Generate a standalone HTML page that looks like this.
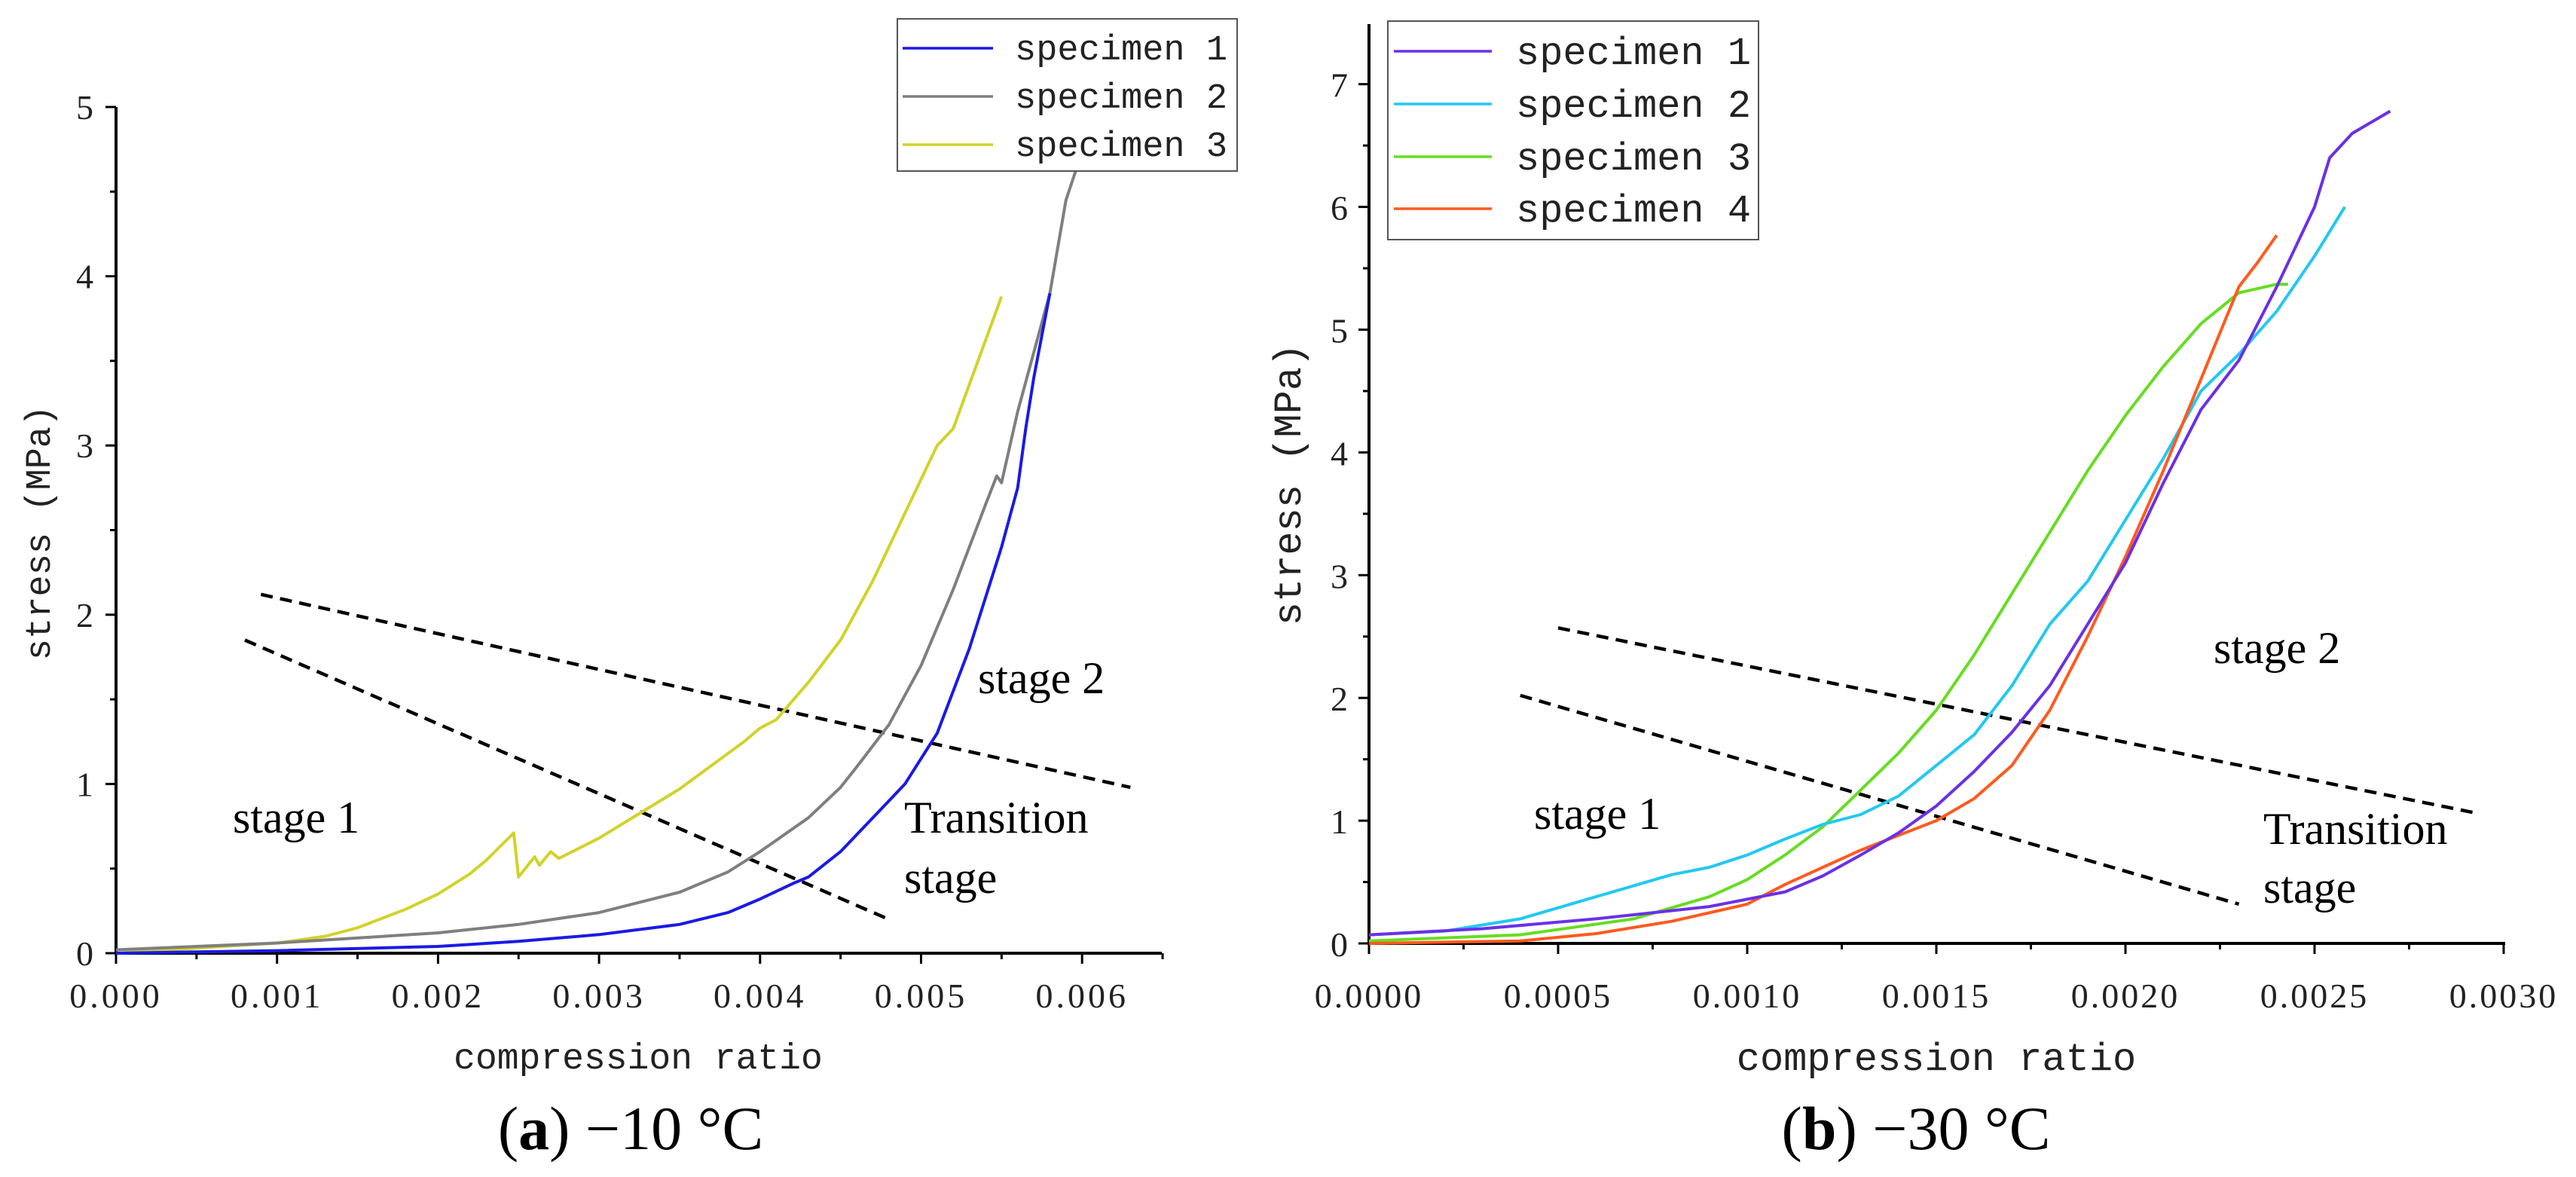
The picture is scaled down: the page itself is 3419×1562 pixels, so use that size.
<!DOCTYPE html>
<html><head><meta charset="utf-8"><style>
html,body{margin:0;padding:0;background:#fff;}
svg{display:block;}
.tick{font-family:"Liberation Serif",serif;font-size:46px;fill:#222;}
.mono{font-family:"Liberation Mono",monospace;fill:#222;}
.serif{font-family:"Liberation Serif",serif;fill:#000;}
</style></head><body>
<svg id="fig" width="3419" height="1562" viewBox="0 0 3419 1562" xmlns="http://www.w3.org/2000/svg">
<g id="pa"></g>
<g id="pb"></g>
</svg>
<script>
// ---- Chart (a) -10 C data ----
const aXTicks = ["0.000","0.001","0.002","0.003","0.004","0.005","0.006"];
const aYTicks = ["0","1","2","3","4","5"];
const aS1x = [0,0.001,0.002,0.0025,0.003,0.0035,0.0038,0.004,0.0042,0.0043,0.0045,0.0046,0.0048,0.0049,0.0051,0.0053,0.0055,0.0056,0.00565,0.0057,0.0058];
const aS1y = [0,0.015,0.04,0.07,0.11,0.17,0.24,0.32,0.41,0.45,0.6,0.7,0.9,1.0,1.3,1.8,2.4,2.75,3.1,3.4,3.9];
const aS2x = [0,0.001,0.002,0.0025,0.003,0.0035,0.0038,0.004,0.0043,0.0045,0.0046,0.0048,0.005,0.0052,0.0054,0.00547,0.0055,0.0056,0.0058,0.0059,0.00597];
const aS2y = [0.02,0.06,0.12,0.17,0.24,0.36,0.48,0.6,0.8,0.98,1.1,1.35,1.7,2.15,2.65,2.82,2.78,3.2,3.9,4.45,4.65];
const aS3x = [0,0.001,0.0013,0.0015,0.0018,0.002,0.0022,0.0023,0.00247,0.0025,0.0026,0.00263,0.0027,0.00275,0.003,0.0035,0.0039,0.004,0.0041,0.0043,0.0045,0.0047,0.0049,0.0051,0.0052,0.0055];
const aS3y = [0,0.06,0.1,0.15,0.26,0.35,0.47,0.55,0.71,0.45,0.57,0.52,0.6,0.56,0.68,0.97,1.25,1.33,1.38,1.6,1.85,2.2,2.6,3.0,3.1,3.88];
const aD1x = [0.0009,0.0063], aD1y = [2.12,0.98];
const aD2x = [0.0008,0.0048], aD2y = [1.85,0.2];
// ---- Chart (b) -30 C data ----
const bXTicks = ["0.0000","0.0005","0.0010","0.0015","0.0020","0.0025","0.0030"];
const bYTicks = ["0","1","2","3","4","5","6","7"];
const bS1x = [0,0.0003,0.0006,0.0009,0.0011,0.0012,0.0013,0.0014,0.0015,0.0016,0.0017,0.0018,0.0019,0.002,0.0021,0.0022,0.0023,0.0024,0.0025,0.00254,0.0026,0.0027];
const bS1y = [0.07,0.12,0.2,0.3,0.42,0.55,0.72,0.9,1.12,1.4,1.72,2.1,2.6,3.1,3.75,4.35,4.75,5.35,6.0,6.4,6.6,6.78];
const bS2x = [0,0.0002,0.0004,0.0006,0.0008,0.0009,0.001,0.0011,0.0012,0.0013,0.0014,0.0015,0.0016,0.0017,0.0018,0.0019,0.002,0.0021,0.0022,0.0023,0.0024,0.0025,0.00258];
const bS2y = [0.07,0.1,0.2,0.38,0.56,0.62,0.72,0.85,0.97,1.05,1.2,1.45,1.7,2.1,2.6,2.95,3.45,3.95,4.5,4.8,5.15,5.6,6.0];
const bS3x = [0,0.0004,0.0007,0.0009,0.001,0.0011,0.0012,0.0013,0.0014,0.0015,0.0016,0.0017,0.0018,0.0019,0.002,0.0021,0.0022,0.0023,0.0024,0.00243];
const bS3y = [0.02,0.07,0.2,0.38,0.52,0.72,0.95,1.25,1.55,1.9,2.35,2.85,3.35,3.85,4.3,4.7,5.05,5.3,5.37,5.37];
const bS4x = [0,0.0004,0.0006,0.0008,0.001,0.0011,0.0012,0.0013,0.0014,0.0015,0.0016,0.0017,0.0018,0.0019,0.002,0.0021,0.0022,0.0023,0.00235,0.0024];
const bS4y = [0,0.02,0.08,0.18,0.32,0.48,0.62,0.76,0.88,1.0,1.18,1.45,1.9,2.5,3.15,3.85,4.6,5.35,5.55,5.77];
const bD1x = [0.0005,0.00293], bD1y = [2.57,1.06];
const bD2x = [0.0004,0.0023], bD2y = [2.02,0.32];

const NS = "http://www.w3.org/2000/svg";
function mk(parent, tag, attrs, text){
  const e = document.createElementNS(NS, tag);
  for (const k in attrs) e.setAttribute(k, attrs[k]);
  if (text !== undefined) e.textContent = text;
  parent.appendChild(e);
  return e;
}
function pathOf(xs, ys, sx, sy){
  return xs.map((v,i)=>(i?"L":"M")+sx(v).toFixed(1)+","+sy(ys[i]).toFixed(1)).join(" ");
}

// ---------- Chart A ----------
const ga = document.getElementById("pa");
const aX0=154, aXu=213.7/0.001, aY0=1265, aYu=224.6;
const ax = v => aX0 + v*aXu;
const ay = v => aY0 - v*aYu;
{
  const yAxis = mk(ga,"line",{x1:aX0,y1:ay(5),x2:aX0,y2:aY0,stroke:"#000","stroke-width":4});
  
  
  const xAxis = mk(ga,"line",{x1:aX0-2,y1:aY0,x2:1542,y2:aY0,stroke:"#000","stroke-width":4});
  
  
  for (let i=0;i<=10;i++){
    const v=i*0.5, maj=(i%2===0);
    const t = mk(ga,"line",{x1:aX0,y1:ay(v),x2:aX0-(maj?14:8),y2:ay(v),stroke:"#000","stroke-width":3});
    
    
  }
  aYTicks.forEach((lab,i)=>{
    const t = mk(ga,"text",{x:aX0-30,y:ay(+lab)+16,"text-anchor":"end",class:"tick"},lab);
    
    
  });
  for (let i=0;i<=13;i++){
    const v=i*0.0005, maj=(i%2===0);
    const t = mk(ga,"line",{x1:ax(v),y1:aY0,x2:ax(v),y2:aY0+(maj?14:8),stroke:"#000","stroke-width":3});
    
    
  }
  aXTicks.forEach((lab,i)=>{
    const t = mk(ga,"text",{x:ax(parseFloat(lab)),y:1337,"text-anchor":"middle",class:"tick","letter-spacing":"4"},lab);
    
    
  });
  const xt = mk(ga,"text",{x:847,y:1418,"text-anchor":"middle",class:"mono","font-size":48},"compression ratio");
  
  
  const yt = mk(ga,"text",{x:0,y:0,"text-anchor":"middle",class:"mono","font-size":47,transform:"translate(66,707) rotate(-90)"},"stress (MPa)");
  
  

  const d1 = mk(ga,"path",{d:pathOf(aD1x,aD1y,ax,ay),stroke:"#000","stroke-width":4.5,"stroke-dasharray":"16 10",fill:"none"});
  
  
  const d2 = mk(ga,"path",{d:pathOf(aD2x,aD2y,ax,ay),stroke:"#000","stroke-width":4.5,"stroke-dasharray":"16 10",fill:"none"});
  
  

  const s3 = mk(ga,"path",{d:pathOf(aS3x,aS3y,ax,ay),stroke:"#d2d22a","stroke-width":4,fill:"none","stroke-linejoin":"round"});
  
  
  const s2 = mk(ga,"path",{d:pathOf(aS2x,aS2y,ax,ay),stroke:"#7f7f7f","stroke-width":4,fill:"none","stroke-linejoin":"round"});
  
  
  const s1 = mk(ga,"path",{d:pathOf(aS1x,aS1y,ax,ay),stroke:"#1a1ae6","stroke-width":4,fill:"none","stroke-linejoin":"round"});
  
  

  const l1 = mk(ga,"text",{x:309,y:1105,class:"serif","font-size":60},"stage 1");
  
  
  const l2 = mk(ga,"text",{x:1298,y:920,class:"serif","font-size":60},"stage 2");
  
  
  const l3 = mk(ga,"text",{x:1200,y:1105,class:"serif","font-size":60},"Transition");
  
  
  const l4 = mk(ga,"text",{x:1200,y:1185,class:"serif","font-size":60},"stage");
  
  

  const lg = mk(ga,"g",{});
  
  
  mk(lg,"rect",{x:1191,y:25,width:451,height:202,fill:"#fff",stroke:"#555","stroke-width":2});
  const cols=["#1a1ae6","#7f7f7f","#d2d22a"], rows=[64,128,192];
  ["specimen 1","specimen 2","specimen 3"].forEach((s,i)=>{
    const e = mk(lg,"line",{x1:1198,y1:rows[i],x2:1318,y2:rows[i],stroke:cols[i],"stroke-width":3.5});
    
    
    const t = mk(lg,"text",{x:1347,y:rows[i]+15,class:"mono","font-size":47},s);
    
    
  });
  const cap = mk(ga,"text",{x:837,y:1525,"text-anchor":"middle",class:"serif","font-size":82},"");
  
  
  cap.innerHTML = '(<tspan font-weight="bold">a</tspan>) \u221210 \u00b0C';
}

// ---------- Chart B ----------
const gb = document.getElementById("pb");
const bX0=1817, bXu=251/0.0005, bY0=1252, bYu=162.9;
const bx = v => bX0 + v*bXu;
const by = v => bY0 - v*bYu;
{
  const yAxis = mk(gb,"line",{x1:bX0,y1:32,x2:bX0,y2:bY0,stroke:"#000","stroke-width":4});
  
  
  const xAxis = mk(gb,"line",{x1:bX0-2,y1:bY0,x2:bx(0.003)+2,y2:bY0,stroke:"#000","stroke-width":4});
  
  
  for (let i=0;i<=14;i++){
    const v=i*0.5, maj=(i%2===0);
    const t = mk(gb,"line",{x1:bX0,y1:by(v),x2:bX0-(maj?14:8),y2:by(v),stroke:"#000","stroke-width":3});
    
    
  }
  bYTicks.forEach(lab=>{
    const t = mk(gb,"text",{x:bX0-28,y:by(+lab)+17,"text-anchor":"end",class:"tick","font-size":48},lab);
    
    
  });
  for (let i=0;i<=12;i++){
    const v=i*0.00025, maj=(i%2===0);
    const t = mk(gb,"line",{x1:bx(v),y1:bY0,x2:bx(v),y2:bY0+(maj?14:8),stroke:"#000","stroke-width":3});
    
    
  }
  bXTicks.forEach(lab=>{
    const t = mk(gb,"text",{x:bx(parseFloat(lab)),y:1337,"text-anchor":"middle",class:"tick","font-size":48,"letter-spacing":"3"},lab);
    
    
  });
  const xt = mk(gb,"text",{x:2570,y:1420,"text-anchor":"middle",class:"mono","font-size":52},"compression ratio");
  
  
  const yt = mk(gb,"text",{x:0,y:0,"text-anchor":"middle",class:"mono","font-size":52,transform:"translate(1726,643) rotate(-90)"},"stress (MPa)");
  
  

  const d1 = mk(gb,"path",{d:pathOf(bD1x,bD1y,bx,by),stroke:"#000","stroke-width":4.5,"stroke-dasharray":"16 10",fill:"none"});
  
  
  const d2 = mk(gb,"path",{d:pathOf(bD2x,bD2y,bx,by),stroke:"#000","stroke-width":4.5,"stroke-dasharray":"16 10",fill:"none"});
  
  

  const s3 = mk(gb,"path",{d:pathOf(bS3x,bS3y,bx,by),stroke:"#66dd22","stroke-width":4,fill:"none","stroke-linejoin":"round"});
  
  
  const s2 = mk(gb,"path",{d:pathOf(bS2x,bS2y,bx,by),stroke:"#22c8f2","stroke-width":4,fill:"none","stroke-linejoin":"round"});
  
  
  const s4 = mk(gb,"path",{d:pathOf(bS4x,bS4y,bx,by),stroke:"#ff5a1e","stroke-width":4,fill:"none","stroke-linejoin":"round"});
  
  
  const s1 = mk(gb,"path",{d:pathOf(bS1x,bS1y,bx,by),stroke:"#6a30e8","stroke-width":4,fill:"none","stroke-linejoin":"round"});
  
  

  const l1 = mk(gb,"text",{x:2036,y:1100,class:"serif","font-size":60},"stage 1");
  
  
  const l2 = mk(gb,"text",{x:2938,y:880,class:"serif","font-size":60},"stage 2");
  
  
  const l3 = mk(gb,"text",{x:3004,y:1120,class:"serif","font-size":60},"Transition");
  
  
  const l4 = mk(gb,"text",{x:3004,y:1198,class:"serif","font-size":60},"stage");
  
  

  const lg = mk(gb,"g",{});
  
  
  mk(lg,"rect",{x:1842,y:28,width:492,height:290,fill:"#fff",stroke:"#555","stroke-width":2});
  const cols=["#6a30e8","#22c8f2","#66dd22","#ff5a1e"], rows=[68,138,208,277];
  ["specimen 1","specimen 2","specimen 3","specimen 4"].forEach((s,i)=>{
    const e = mk(lg,"line",{x1:1850,y1:rows[i],x2:1980,y2:rows[i],stroke:cols[i],"stroke-width":3.5});
    
    
    const t = mk(lg,"text",{x:2012,y:rows[i]+17,class:"mono","font-size":52},s);
    
    
  });
  const cap = mk(gb,"text",{x:2543,y:1525,"text-anchor":"middle",class:"serif","font-size":82},"");
  
  
  cap.innerHTML = '(<tspan font-weight="bold">b</tspan>) \u221230 \u00b0C';
}
</script>
</body></html>
